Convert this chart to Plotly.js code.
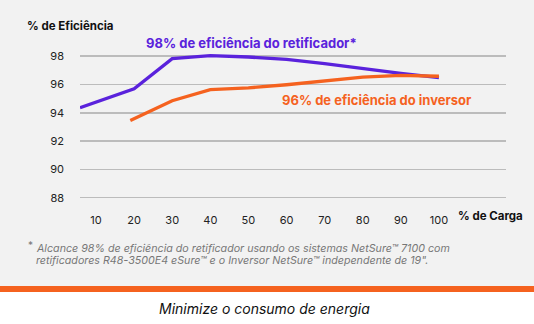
<!DOCTYPE html>
<html>
<head>
<meta charset="utf-8">
<script src="https://cdn.plot.ly/plotly-3.0.1.min.js"></script>
<style>html,body{margin:0;padding:0;background:#fff;}#chart{width:534px;height:324px;}</style>
</head>
<body>
<div id="chart"></div>
<script>
// Data
const loadRetificador = [5.8, 20, 30, 40, 50, 60, 70, 80, 90, 100];
const effRetificador  = [94.36, 95.7, 97.82, 98.04, 97.94, 97.77, 97.47, 97.12, 96.78, 96.48];
const loadInversor = [19, 30, 40, 50, 60, 70, 80, 90, 100];
const effInversor  = [93.46, 94.85, 95.63, 95.76, 95.98, 96.24, 96.52, 96.64, 96.58];
const xTicks = [10, 20, 30, 40, 50, 60, 70, 80, 90, 100];
const yTicks = [88, 90, 92, 94, 96, 98];
const labelRetificador = "98% de eficiência do retificador*";
const labelInversor = "96% de eficiência do inversor";
const yTitle = "% de Eficiência";
const xTitle = "% de Carga";
const footnote1 = "Alcance 98% de eficiência do retificador usando os sistemas NetSure™ 7100 com";
const footnote2 = "retificadores R48-3500E4 eSure™ e o Inversor NetSure™ independente de 19\".";
const caption = "Minimize o consumo de energia";

const W = 534, H = 324;
const L = 80, R = 506, T = 42, B = 209;
const px = x => (x - L) / (R - L);
const py = y => (B - y) / (B - T);

const PURPLE = "#5a22dc";
const ORANGE = "#f5621f";
const FONT = "Inter, 'Liberation Sans', sans-serif";

const traces = [
  {x: loadRetificador, y: effRetificador, type: "scatter", mode: "lines",
   line: {color: PURPLE, width: 3.3}, hoverinfo: "skip"},
  {x: loadInversor, y: effInversor, type: "scatter", mode: "lines",
   line: {color: ORANGE, width: 3.3}, hoverinfo: "skip"}
];

const ann = (text, x, y, opts) => Object.assign({
  text, x: px(x), y: py(y), xref: "paper", yref: "paper",
  showarrow: false, xanchor: "left", yanchor: "middle"
}, opts);

const layout = {
  width: W, height: H,
  margin: {l: L, r: W - R, t: T, b: H - B, pad: 0},
  paper_bgcolor: "#ffffff",
  plot_bgcolor: "rgba(0,0,0,0)",
  showlegend: false,
  font: {family: FONT, size: 11, color: "#222"},
  xaxis: {
    range: [5.8, 117.6], tickvals: xTicks, ticktext: xTicks.map(String),
    showgrid: false, zeroline: false, showline: false, ticks: "",
    ticklabelstandoff: 3, tickfont: {size: 11, color: "#222", family: FONT}
  },
  yaxis: {
    range: [87.2, 99], tickvals: yTicks, ticktext: yTicks.map(String),
    showgrid: true, gridcolor: "#bcbcbc", gridwidth: 1.5,
    zeroline: false, showline: false, ticks: "",
    ticklabelstandoff: 15, tickfont: {size: 11, color: "#222", family: FONT}
  },
  shapes: [
    {type: "rect", xref: "paper", yref: "paper", x0: px(0), x1: px(W), y0: py(0), y1: py(286),
     fillcolor: "#f2f2f2", line: {width: 0}, layer: "below"},
    {type: "rect", xref: "paper", yref: "paper", x0: px(0), x1: px(W), y0: py(286), y1: py(292),
     fillcolor: ORANGE, line: {width: 0}, layer: "below"}
  ],
  annotations: [
    ann("<b>" + yTitle + "</b>", 25, 26, {font: {size: 11.5, color: "#111", family: FONT}}),
    ann("<b>" + xTitle + "</b>", 456, 216, {font: {size: 11.5, color: "#111", family: FONT}}),
    ann("<b>" + labelRetificador + "</b>", 144, 43, {font: {size: 13, color: PURPLE, family: FONT}}),
    ann("<b>" + labelInversor + "</b>", 280, 100, {font: {size: 13, color: ORANGE, family: FONT}}),
    ann("*", 26, 245, {font: {size: 10, color: "#777", family: FONT}}),
    ann("<i>" + footnote1 + "</i>", 34, 248, {font: {size: 10.7, color: "#777", family: FONT}}),
    ann("<i>" + footnote2 + "</i>", 34, 260.5, {font: {size: 10.7, color: "#777", family: FONT}}),
    ann("<i>" + caption + "</i>", 264, 308, {xanchor: "center", font: {size: 14, color: "#111", family: FONT}})
  ]
};

Plotly.newPlot("chart", traces, layout, {staticPlot: true, displayModeBar: false});
</script>
</body>
</html>
